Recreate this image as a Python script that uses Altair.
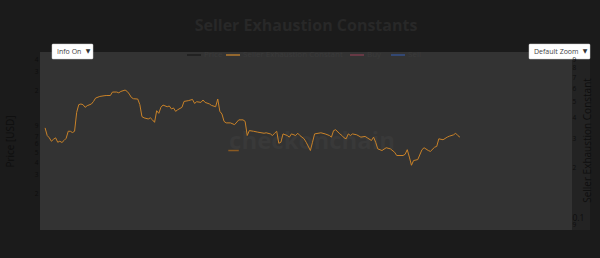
import altair as alt
import pandas as pd

# ---- data ----
dates = ["2025-02-15","2025-02-16","2025-02-17","2025-02-18","2025-02-19","2025-02-20","2025-02-21","2025-02-22","2025-02-23","2025-02-24",
         "2025-02-25","2025-02-26","2025-02-27","2025-02-28","2025-03-01","2025-03-02","2025-03-03","2025-03-04","2025-03-05","2025-03-06",
         "2025-03-07","2025-03-09","2025-03-10","2025-03-11","2025-03-13","2025-03-15","2025-03-16","2025-03-18","2025-03-19","2025-03-21",
         "2025-03-22","2025-03-23","2025-03-25","2025-03-26","2025-03-27","2025-03-28","2025-03-29","2025-03-31","2025-04-01","2025-04-02",
         "2025-04-03","2025-04-05","2025-04-06","2025-04-07","2025-04-08","2025-04-09","2025-04-10","2025-04-11","2025-04-12","2025-04-14",
         "2025-04-15","2025-04-16","2025-04-17","2025-04-18","2025-04-19","2025-04-21","2025-04-22","2025-04-24","2025-04-26","2025-04-27",
         "2025-04-28","2025-04-30","2025-05-01","2025-05-02","2025-05-04","2025-05-05","2025-05-07","2025-05-08","2025-05-09","2025-05-10",
         "2025-05-11","2025-05-12","2025-05-14","2025-05-16","2025-05-18","2025-05-20","2025-05-21","2025-05-22","2025-05-23","2025-05-25",
         "2025-05-27","2025-05-30","2025-05-31","2025-06-02","2025-06-03","2025-06-04","2025-06-05","2025-06-06","2025-06-07","2025-06-08",
         "2025-06-10","2025-06-11","2025-06-12","2025-06-14","2025-06-15","2025-06-16","2025-06-18","2025-06-19","2025-06-21","2025-06-22",
         "2025-06-23","2025-06-26","2025-06-28","2025-06-30","2025-07-01","2025-07-02","2025-07-03","2025-07-05","2025-07-06","2025-07-07",
         "2025-07-08","2025-07-09","2025-07-10","2025-07-11","2025-07-13","2025-07-15","2025-07-17","2025-07-18","2025-07-20","2025-07-21",
         "2025-07-22","2025-07-23","2025-07-25","2025-07-27","2025-07-29","2025-07-31","2025-08-01","2025-08-04","2025-08-05","2025-08-06",
         "2025-08-07","2025-08-08","2025-08-09","2025-08-11","2025-08-13","2025-08-14","2025-08-16","2025-08-17","2025-08-19","2025-08-20",
         "2025-08-21","2025-08-23","2025-08-25","2025-08-26","2025-08-28","2025-08-29","2025-08-30","2025-08-31"]
sec_values = [0.347,0.312,0.302,0.288,0.296,0.302,0.284,0.288,0.283,0.291,
              0.300,0.331,0.331,0.325,0.331,0.431,0.480,0.484,0.480,0.462,
              0.473,0.484,0.502,0.526,0.538,0.543,0.545,0.545,0.572,0.572,
              0.566,0.577,0.588,0.577,0.556,0.530,0.521,0.519,0.480,0.406,
              0.399,0.393,0.399,0.388,0.375,0.441,0.425,0.462,0.477,0.466,
              0.471,0.452,0.458,0.437,0.447,0.462,0.502,0.507,0.516,0.488,
              0.500,0.495,0.512,0.495,0.485,0.475,0.466,0.519,0.437,0.421,
              0.380,0.372,0.372,0.363,0.388,0.388,0.380,0.312,0.334,0.331,
              0.327,0.322,0.324,0.319,0.312,0.322,0.331,0.280,0.284,0.319,
              0.312,0.305,0.319,0.312,0.322,0.312,0.298,0.284,0.253,0.284,
              0.319,0.324,0.319,0.312,0.305,0.334,0.338,0.319,0.312,0.302,
              0.298,0.319,0.312,0.319,0.315,0.305,0.308,0.302,0.291,0.305,
              0.284,0.259,0.253,0.263,0.259,0.247,0.236,0.236,0.240,0.256,
              0.231,0.206,0.220,0.223,0.256,0.263,0.253,0.250,0.265,0.268,
              0.298,0.294,0.305,0.309,0.315,0.322,0.312,0.305]

signal_dates = ["2025-05-13", "2025-05-18"]
signal_values = [0.253, 0.253]

x_ticks = ["2025-03-01","2025-04-01","2025-05-01","2025-06-01","2025-07-01","2025-08-01","2025-09-01","2025-10-01"]
price_ticks = [200,300,400,500,600,700,800,900,1000,2000,3000,4000]
sec_ticks = [0.09,0.1,0.2,0.3,0.4,0.5,0.6,0.7,0.8,0.9]

legend_names = ["Price", "Seller Exhaustion Constant", "Buy", "Sell"]
legend_colors = ["#1e1e1e", "#b57a2e", "#7a3c4c", "#34508a"]

FONT = "Open Sans"
ORANGE = "#c98228"
W, H = 532, 178

df = pd.DataFrame({"date": pd.to_datetime(dates), "sec": sec_values})
sig = pd.DataFrame({"date": pd.to_datetime(signal_dates), "sec": signal_values})

xscale = alt.Scale(domain=["2025-02-12T14:00:00", "2025-10-23T06:00:00"])
xaxis = alt.Axis(values=[pd.Timestamp(d).isoformat() for d in x_ticks], format="%d-%b-%y",
                 labelColor="#343434", labelFontSize=8, labelFont=FONT, tickSize=0, domain=False,
                 grid=False, labelPadding=4, title=None, labelAngle=0)

sec_scale = alt.Scale(type="log", domain=[0.0835, 1.0])
sec_axis = alt.Axis(orient="right", values=sec_ticks, zindex=2,
                    labelExpr="datum.value == 0.1 ? '0.1' : replace(toString(datum.value), regexp('[0.]', 'g'), '')",
                    labelColor="#0e0e0e",
                    labelFontSize={"condition": {"test": "datum.value == 0.1", "value": 8.5}, "value": 6.5},
                    labelFont=FONT, tickSize=0, domain=False, grid=False,
                    labelPadding=0, labelAlign="left", title="Seller Exhaustion Constant",
                    titleColor="#0e0e0e", titleFontSize=10, titleFont=FONT, titleFontWeight="normal",
                    titleAngle=270, titleX=15, titleY=88, titleAlign="center", titleBaseline="middle")

price_scale = alt.Scale(type="log", domain=[87.5, 4680])
price_axis = alt.Axis(orient="left", values=price_ticks, zindex=2,
                      labelExpr="datum.value == 1000 ? '$1000' : replace(toString(datum.value), regexp('0', 'g'), '')",
                      labelColor="#0e0e0e",
                      labelFontSize={"condition": {"test": "datum.value == 1000", "value": 8}, "value": 6.5},
                      labelFont=FONT, tickSize=0, domain=False, grid=False,
                      labelPadding=2, title="Price [USD]", titleColor="#0e0e0e", titleFontSize=10, titleFont=FONT,
                      titleFontWeight="normal", titleAngle=270, titleX=-30, titleY=89,
                      titleAlign="center", titleBaseline="middle")

one = pd.DataFrame({"a": [0]})

price_layer = alt.Chart(one).mark_rule(opacity=0).encode(
    y=alt.YDatum(1000, type="quantitative", scale=price_scale, axis=price_axis)
)

right_strip = alt.Chart(one).mark_rect(color="#232323").encode(
    x=alt.value(W), x2=alt.value(W + 18), y=alt.value(0), y2=alt.value(H)
)

watermark = alt.Chart(pd.DataFrame({"t": ["checkonchain"]})).mark_text(
    font=FONT, fontSize=24, fontWeight="bold", color="#393939", align="center", baseline="middle"
).encode(x=alt.value(272), y=alt.value(90), text="t:N")

sec_line = alt.Chart(df).mark_line(color=ORANGE, strokeWidth=1).encode(
    x=alt.X("date:T", scale=xscale, axis=xaxis),
    y=alt.Y("sec:Q", scale=sec_scale, axis=sec_axis),
)

sig_line = alt.Chart(sig).mark_line(color="#8a5a22", strokeWidth=1.5).encode(
    x=alt.X("date:T", scale=xscale, axis=None),
    y=alt.Y("sec:Q", scale=sec_scale, axis=None),
)

# legend (plotly-style, inside the top of the plot)
leg_x = [147, 186, 310, 351]
leg_layers = []
for name, col, lx in zip(legend_names, legend_colors, leg_x):
    leg_layers.append(alt.Chart(one).mark_rule(color=col, strokeWidth=1.5).encode(
        x=alt.value(lx), x2=alt.value(lx + 14), y=alt.value(3)))
    leg_layers.append(alt.Chart(pd.DataFrame({"t": [name]})).mark_text(
        font=FONT, fontSize=8, color="#3b3b3b", align="left", baseline="middle").encode(
        x=alt.value(lx + 17), y=alt.value(3), text="t:N"))

# dropdown widgets
def dropdown(x0, x1, label):
    box = alt.Chart(one).mark_rect(color="#ffffff", stroke="#cfcfcf", strokeWidth=0.5, cornerRadius=1).encode(
        x=alt.value(x0), x2=alt.value(x1), y=alt.value(-8), y2=alt.value(7))
    txt = alt.Chart(pd.DataFrame({"t": [label]})).mark_text(
        font=FONT, fontSize=7, color="#444444", align="left", baseline="middle").encode(
        x=alt.value(x0 + 5), y=alt.value(-0.5), text="t:N")
    arr = alt.Chart(pd.DataFrame({"t": ["▼"]})).mark_text(
        font="DejaVu Sans", fontSize=6, color="#333333", align="center", baseline="middle").encode(
        x=alt.value(x1 - 5), y=alt.value(-1), text="t:N")
    return [box, txt, arr]

title = alt.Chart(pd.DataFrame({"t": ["Seller Exhaustion Constants"]})).mark_text(
    font=FONT, fontSize=16, fontWeight="bold", color="#282828", align="center", baseline="middle"
).encode(x=alt.value(266), y=alt.value(-26), text="t:N")

chart = alt.layer(
    price_layer, right_strip, watermark, sec_line, sig_line, *leg_layers,
    *dropdown(12, 53, "Info On"), *dropdown(489, 550, "Default Zoom"), title
).resolve_scale(y="independent").properties(
    width=W, height=H,
    autosize=alt.AutoSizeParams(type="none"),
    padding={"left": 40, "top": 52, "right": 28, "bottom": 28},
    background="#1b1b1b",
).configure_view(fill="#333333", stroke=None)

chart.save("out.html", embed_options={"renderer": "svg", "actions": False})
